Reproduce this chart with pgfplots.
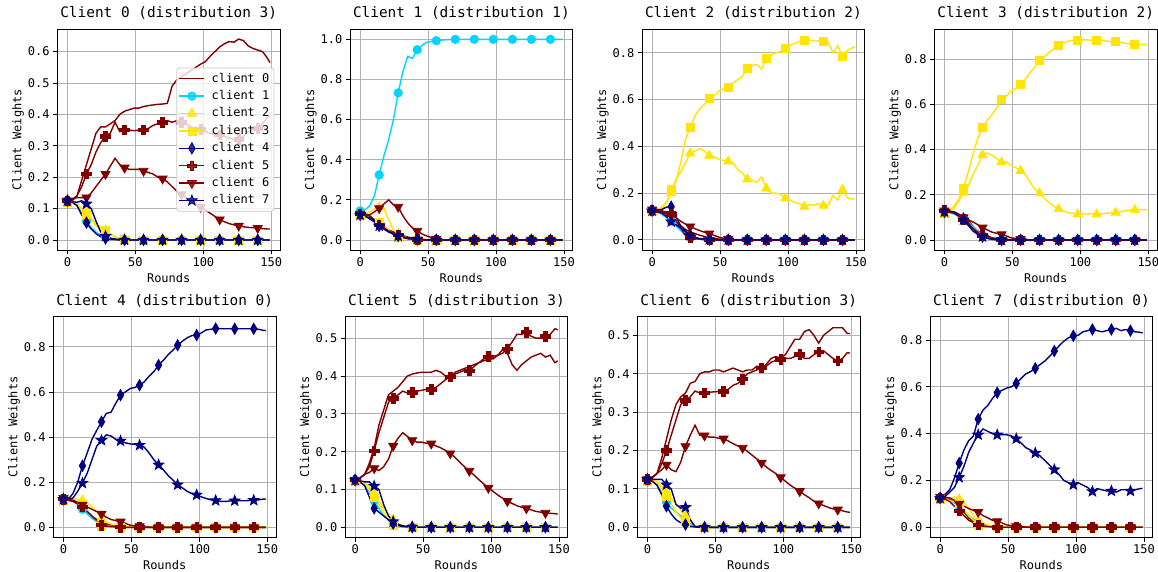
\documentclass[border=0pt]{standalone}
\usepackage{fontspec}
\setmainfont{DejaVu Sans Mono}
\usepackage{pgfplots}
\usepackage{pgfplotstable}
\pgfplotsset{compat=1.18}
\definecolor{jr}{rgb}{0.5,0,0}
\definecolor{jc}{rgb}{0,0.83,1}
\definecolor{jy}{rgb}{1,0.9,0}
\definecolor{jb}{rgb}{0,0,0.5}
\pgfdeclareplotmark{fstar}{%
 \pgfpathmoveto{\pgfpointpolar{90}{1.0*\pgfplotmarksize}}%
 \pgfpathlineto{\pgfpointpolar{126}{0.42*\pgfplotmarksize}}%
 \pgfpathlineto{\pgfpointpolar{162}{1.0*\pgfplotmarksize}}%
 \pgfpathlineto{\pgfpointpolar{198}{0.42*\pgfplotmarksize}}%
 \pgfpathlineto{\pgfpointpolar{234}{1.0*\pgfplotmarksize}}%
 \pgfpathlineto{\pgfpointpolar{270}{0.42*\pgfplotmarksize}}%
 \pgfpathlineto{\pgfpointpolar{306}{1.0*\pgfplotmarksize}}%
 \pgfpathlineto{\pgfpointpolar{342}{0.42*\pgfplotmarksize}}%
 \pgfpathlineto{\pgfpointpolar{18}{1.0*\pgfplotmarksize}}%
 \pgfpathlineto{\pgfpointpolar{54}{0.42*\pgfplotmarksize}}%
 \pgfpathclose\pgfusepathqfillstroke}
\pgfdeclareplotmark{fplus}{%
 \pgfpathmoveto{\pgfpoint{-0.36*\pgfplotmarksize}{\pgfplotmarksize}}%
 \pgfpathlineto{\pgfpoint{0.36*\pgfplotmarksize}{\pgfplotmarksize}}%
 \pgfpathlineto{\pgfpoint{0.36*\pgfplotmarksize}{0.36*\pgfplotmarksize}}%
 \pgfpathlineto{\pgfpoint{\pgfplotmarksize}{0.36*\pgfplotmarksize}}%
 \pgfpathlineto{\pgfpoint{\pgfplotmarksize}{-0.36*\pgfplotmarksize}}%
 \pgfpathlineto{\pgfpoint{0.36*\pgfplotmarksize}{-0.36*\pgfplotmarksize}}%
 \pgfpathlineto{\pgfpoint{0.36*\pgfplotmarksize}{-\pgfplotmarksize}}%
 \pgfpathlineto{\pgfpoint{-0.36*\pgfplotmarksize}{-\pgfplotmarksize}}%
 \pgfpathlineto{\pgfpoint{-0.36*\pgfplotmarksize}{-0.36*\pgfplotmarksize}}%
 \pgfpathlineto{\pgfpoint{-\pgfplotmarksize}{-0.36*\pgfplotmarksize}}%
 \pgfpathlineto{\pgfpoint{-\pgfplotmarksize}{0.36*\pgfplotmarksize}}%
 \pgfpathlineto{\pgfpoint{-0.36*\pgfplotmarksize}{0.36*\pgfplotmarksize}}%
 \pgfpathclose\pgfusepathqfillstroke}
\pgfplotsset{
 mi/.style={mark indices={1,5,9,13,17,21,25,29,33,37,41}},
 s0/.style={color=jr, line width=1.4pt, no markers},
 s1/.style={color=jc, line width=1.4pt, mi, mark=*, mark size=4.2pt, mark options={solid, line width=0.8pt}},
 s2/.style={color=jy, line width=1.4pt, mi, mark=triangle*, mark size=5.2pt, mark options={solid, line width=0.8pt}},
 s3/.style={color=jy, line width=1.4pt, mi, mark=square*, mark size=4.0pt, mark options={solid, line width=0.8pt}},
 s4/.style={color=jb, line width=1.4pt, mi, mark=diamond*, mark size=5.6pt, mark options={solid, line width=0.8pt, xscale=0.76}},
 s5/.style={color=jr, line width=1.4pt, mi, mark=fplus, mark size=4.8pt, mark options={solid, line width=0.8pt}},
 s6/.style={color=jr, line width=1.4pt, mi, mark=triangle*, mark size=5.2pt, mark options={solid, line width=0.8pt, rotate=180}},
 s7/.style={color=jb, line width=1.4pt, mi, mark=fstar, mark size=5.5pt, mark options={solid, line width=0.8pt}},
 cw/.style={
  scale only axis, width=222.8pt, height=220.7pt, anchor=south west,
  xmin=-7.45, xmax=156.45, xtick={0,50,100,150},
  grid=major, grid style={line width=0.9pt, color=black!30},
  axis line style={line width=0.9pt},
  tick align=outside, tick pos=left, major tick length=4.2pt,
  every tick/.style={black, line width=0.9pt},
  tick label style={font=\fontsize{12}{14}\selectfont},
  /pgf/number format/assume math mode=true,
  y tick label style={/pgf/number format/.cd, fixed, fixed zerofill, precision=1},
  scaled y ticks=false,
  xlabel=Rounds, ylabel=Client Weights,
  label style={font=\fontsize{12}{14}\selectfont},
  xlabel style={at={(axis description cs:0.5,-0.148)}, anchor=base},
  ylabel style={at={(axis description cs:-0.161,0.5)}, anchor=base},
  title style={at={(axis description cs:0.5,1.025)}, anchor=base, font=\fontsize{14.4}{16}\selectfont},
 }
}
\newcommand\series[1]{%
\addplot[s0] table[x=x,y=c0]{#1};
\addplot[s1] table[x=x,y=c1]{#1};
\addplot[s2] table[x=x,y=c2]{#1};
\addplot[s3] table[x=x,y=c3]{#1};
\addplot[s4] table[x=x,y=c4]{#1};
\addplot[s5] table[x=x,y=c5]{#1};
\addplot[s6] table[x=x,y=c6]{#1};
\addplot[s7] table[x=x,y=c7]{#1};}

\pgfplotstableread{
x c0 c1 c2 c3 c4 c5 c6 c7
0 0.125 0.125 0.125 0.12 0.125 0.125 0.125 0.125
3.5 0.13 0.12 0.12 0.118 0.12 0.125 0.13 0.122
7 0.14 0.11 0.115 0.11 0.11 0.14 0.135 0.12
10.5 0.19 0.085 0.10 0.095 0.08 0.17 0.135 0.125
14 0.24 0.06 0.09 0.08 0.055 0.21 0.135 0.115
17.5 0.29 0.04 0.07 0.065 0.035 0.24 0.15 0.10
21 0.34 0.025 0.05 0.045 0.02 0.28 0.17 0.06
24.5 0.36 0.015 0.04 0.038 0.01 0.31 0.19 0.025
28 0.36 0.008 0.03 0.03 0.005 0.33 0.21 0.012
31.5 0.37 0.004 0.02 0.02 0.002 0.34 0.235 0.006
35 0.38 0.002 0.01 0.008 0.001 0.375 0.26 0.003
38.5 0.40 0.001 0.004 0.003 0 0.345 0.24 0.001
42 0.41 0 0.001 0.001 0 0.35 0.23 0
45.5 0.415 0 0 0 0 0.35 0.225 0
49 0.42 0 0 0 0 0.348 0.225 0
52.5 0.42 0 0 0 0 0.35 0.225 0
56 0.425 0 0 0 0 0.35 0.22 0
59.5 0.428 0 0 0 0 0.355 0.215 0
63 0.43 0 0 0 0 0.365 0.21 0
66.5 0.432 0 0 0 0 0.37 0.20 0
70 0.433 0 0 0 0 0.375 0.195 0
73.5 0.435 0 0 0 0 0.38 0.185 0
77 0.49 0 0 0 0 0.375 0.17 0
80.5 0.51 0 0 0 0 0.38 0.155 0
84 0.52 0 0 0 0 0.375 0.145 0
87.5 0.53 0 0 0 0 0.37 0.135 0
91 0.54 0 0 0 0 0.36 0.125 0
94.5 0.55 0 0 0 0 0.355 0.115 0
98 0.56 0 0 0 0 0.352 0.105 0
101.5 0.568 0 0 0 0 0.345 0.095 0
105 0.585 0 0 0 0 0.34 0.085 0
108.5 0.60 0 0 0 0 0.335 0.075 0
112 0.615 0 0 0 0 0.335 0.065 0
115.5 0.625 0 0 0 0 0.33 0.058 0
119 0.632 0 0 0 0 0.325 0.052 0
122.5 0.63 0 0 0 0 0.32 0.048 0
126 0.64 0 0 0 0 0.32 0.045 0
129.5 0.635 0 0 0 0 0.33 0.042 0
133 0.618 0 0 0 0 0.345 0.04 0
136.5 0.61 0 0 0 0 0.35 0.039 0
140 0.605 0 0 0 0 0.355 0.038 0
143.5 0.60 0 0 0 0 0.37 0.036 0
147 0.58 0 0 0 0 0.39 0.035 0
149 0.565 0 0 0 0 0.395 0.035 0
}\tA

\pgfplotstableread{
x c0 c1 c2 c3 c4 c5 c6 c7
0 0.13 0.145 0.125 0.12 0.125 0.13 0.13 0.125
3.5 0.125 0.15 0.13 0.115 0.12 0.125 0.128 0.118
7 0.12 0.17 0.14 0.11 0.105 0.12 0.125 0.11
10.5 0.10 0.22 0.155 0.10 0.09 0.10 0.14 0.095
14 0.08 0.324 0.165 0.09 0.07 0.075 0.158 0.07
17.5 0.065 0.42 0.16 0.07 0.055 0.06 0.18 0.055
21 0.05 0.50 0.10 0.05 0.04 0.045 0.20 0.04
24.5 0.04 0.60 0.05 0.03 0.03 0.035 0.175 0.03
28 0.03 0.733 0.03 0.015 0.02 0.025 0.165 0.02
31.5 0.022 0.84 0.02 0.01 0.012 0.015 0.12 0.015
35 0.015 0.915 0.01 0.005 0.006 0.01 0.085 0.01
38.5 0.01 0.905 0.006 0.002 0.004 0.006 0.06 0.007
42 0.005 0.948 0.003 0 0.002 0.003 0.045 0.005
45.5 0.003 0.97 0.001 0 0.001 0.001 0.03 0.003
49 0.001 0.985 0 0 0 0 0.02 0.001
52.5 0 0.99 0 0 0 0 0.012 0
56 0 0.993 0 0 0 0 0.005 0
59.5 0 0.996 0 0 0 0 0.002 0
63 0 0.998 0 0 0 0 0.001 0
66.5 0 0.999 0 0 0 0 0 0
70 0 1 0 0 0 0 0 0
73.5 0 1 0 0 0 0 0 0
77 0 1 0 0 0 0 0 0
80.5 0 1 0 0 0 0 0 0
84 0 1 0 0 0 0 0 0
87.5 0 1 0 0 0 0 0 0
91 0 1 0 0 0 0 0 0
94.5 0 1 0 0 0 0 0 0
98 0 1 0 0 0 0 0 0
101.5 0 1 0 0 0 0 0 0
105 0 1 0 0 0 0 0 0
108.5 0 1 0 0 0 0 0 0
112 0 1 0 0 0 0 0 0
115.5 0 1 0 0 0 0 0 0
119 0 1 0 0 0 0 0 0
122.5 0 1 0 0 0 0 0 0
126 0 1 0 0 0 0 0 0
129.5 0 1 0 0 0 0 0 0
133 0 1 0 0 0 0 0 0
136.5 0 1 0 0 0 0 0 0
140 0 1 0 0 0 0 0 0
143.5 0 1 0 0 0 0 0 0
147 0 1 0 0 0 0 0 0
149 0 1 0 0 0 0 0 0
}\tB

\pgfplotstableread{
x c0 c1 c2 c3 c4 c5 c6 c7
0 0.125 0.125 0.125 0.12 0.125 0.125 0.13 0.125
3.5 0.123 0.12 0.125 0.125 0.128 0.123 0.128 0.12
7 0.12 0.11 0.14 0.13 0.13 0.12 0.125 0.115
10.5 0.11 0.095 0.16 0.16 0.14 0.118 0.118 0.10
14 0.10 0.08 0.20 0.214 0.142 0.11 0.11 0.078
17.5 0.08 0.06 0.26 0.25 0.10 0.08 0.095 0.065
21 0.06 0.04 0.29 0.33 0.06 0.05 0.08 0.05
24.5 0.045 0.02 0.33 0.43 0.04 0.02 0.068 0.035
28 0.035 0.01 0.37 0.481 0.02 0.01 0.057 0.02
31.5 0.027 0.006 0.38 0.53 0.01 0.006 0.048 0.01
35 0.02 0.003 0.39 0.56 0.005 0.003 0.04 0.006
38.5 0.015 0.001 0.38 0.58 0.002 0.001 0.033 0.004
42 0.01 0 0.36 0.606 0.001 0 0.027 0.002
45.5 0.007 0 0.355 0.615 0 0 0.02 0.001
49 0.004 0 0.345 0.635 0 0 0.012 0
52.5 0.002 0 0.34 0.645 0 0 0.007 0
56 0.001 0 0.336 0.652 0 0 0.004 0
59.5 0 0 0.33 0.67 0 0 0.002 0
63 0 0 0.30 0.685 0 0 0.001 0
66.5 0 0 0.285 0.70 0 0 0 0
70 0 0 0.259 0.733 0 0 0 0
73.5 0 0 0.255 0.745 0 0 0 0
77 0 0 0.245 0.75 0 0 0 0
80.5 0 0 0.27 0.73 0 0 0 0
84 0 0 0.22 0.774 0 0 0 0
87.5 0 0 0.20 0.79 0 0 0 0
91 0 0 0.20 0.80 0 0 0 0
94.5 0 0 0.195 0.805 0 0 0 0
98 0 0 0.178 0.818 0 0 0 0
101.5 0 0 0.17 0.83 0 0 0 0
105 0 0 0.16 0.84 0 0 0 0
108.5 0 0 0.155 0.848 0 0 0 0
112 0 0 0.142 0.854 0 0 0 0
115.5 0 0 0.15 0.855 0 0 0 0
119 0 0 0.15 0.85 0 0 0 0
122.5 0 0 0.155 0.85 0 0 0 0
126 0 0 0.147 0.85 0 0 0 0
129.5 0 0 0.15 0.845 0 0 0 0
133 0 0 0.19 0.80 0 0 0 0
136.5 0 0 0.17 0.83 0 0 0 0
140 0 0 0.214 0.786 0 0 0 0
143.5 0 0 0.18 0.81 0 0 0 0
147 0 0 0.175 0.82 0 0 0 0
149 0 0 0.174 0.826 0 0 0 0
}\tC

\pgfplotstableread{
x c0 c1 c2 c3 c4 c5 c6 c7
0 0.125 0.125 0.125 0.12 0.125 0.13 0.13 0.125
3.5 0.123 0.122 0.125 0.13 0.123 0.125 0.128 0.125
7 0.12 0.115 0.14 0.15 0.12 0.12 0.125 0.125
10.5 0.11 0.105 0.17 0.18 0.11 0.105 0.115 0.11
14 0.10 0.095 0.21 0.229 0.095 0.09 0.10 0.09
17.5 0.09 0.08 0.24 0.30 0.075 0.07 0.09 0.065
21 0.06 0.06 0.29 0.38 0.05 0.05 0.08 0.04
24.5 0.04 0.04 0.33 0.45 0.03 0.035 0.068 0.025
28 0.03 0.02 0.376 0.496 0.015 0.02 0.055 0.015
31.5 0.02 0.01 0.385 0.53 0.008 0.012 0.045 0.008
35 0.01 0.004 0.375 0.555 0.003 0.006 0.035 0.004
38.5 0.007 0.002 0.36 0.585 0.001 0.004 0.03 0.002
42 0.005 0 0.344 0.623 0 0.002 0.025 0
45.5 0.003 0 0.345 0.635 0 0.001 0.018 0
49 0.002 0 0.33 0.66 0 0 0.01 0
52.5 0.001 0 0.32 0.67 0 0 0.007 0
56 0 0 0.306 0.689 0 0 0.004 0
59.5 0 0 0.29 0.71 0 0 0.002 0
63 0 0 0.255 0.74 0 0 0.001 0
66.5 0 0 0.225 0.765 0 0 0 0
70 0 0 0.207 0.793 0 0 0 0
73.5 0 0 0.185 0.81 0 0 0 0
77 0 0 0.165 0.83 0 0 0 0
80.5 0 0 0.15 0.845 0 0 0 0
84 0 0 0.137 0.859 0 0 0 0
87.5 0 0 0.13 0.87 0 0 0 0
91 0 0 0.12 0.88 0 0 0 0
94.5 0 0 0.118 0.883 0 0 0 0
98 0 0 0.114 0.884 0 0 0 0
101.5 0 0 0.116 0.885 0 0 0 0
105 0 0 0.115 0.885 0 0 0 0
108.5 0 0 0.117 0.884 0 0 0 0
112 0 0 0.114 0.885 0 0 0 0
115.5 0 0 0.116 0.885 0 0 0 0
119 0 0 0.118 0.88 0 0 0 0
122.5 0 0 0.12 0.878 0 0 0 0
126 0 0 0.121 0.877 0 0 0 0
129.5 0 0 0.125 0.875 0 0 0 0
133 0 0 0.13 0.87 0 0 0 0
136.5 0 0 0.132 0.868 0 0 0 0
140 0 0 0.134 0.866 0 0 0 0
143.5 0 0 0.135 0.866 0 0 0 0
147 0 0 0.134 0.865 0 0 0 0
149 0 0 0.135 0.865 0 0 0 0
}\tD

\pgfplotstableread{
x c0 c1 c2 c3 c4 c5 c6 c7
0 0.125 0.125 0.125 0.12 0.125 0.125 0.13 0.125
3.5 0.123 0.12 0.125 0.118 0.125 0.12 0.125 0.125
7 0.12 0.115 0.125 0.115 0.15 0.115 0.12 0.13
10.5 0.11 0.10 0.125 0.11 0.20 0.105 0.11 0.16
14 0.10 0.08 0.12 0.10 0.273 0.09 0.10 0.196
17.5 0.075 0.06 0.11 0.075 0.33 0.07 0.09 0.24
21 0.05 0.04 0.09 0.05 0.39 0.05 0.08 0.30
24.5 0.035 0.025 0.07 0.025 0.43 0.03 0.07 0.36
28 0.02 0.015 0.04 0.005 0.468 0.01 0.06 0.386
31.5 0.015 0.01 0.025 0.003 0.505 0.006 0.045 0.41
35 0.01 0.005 0.015 0.002 0.51 0.003 0.035 0.405
38.5 0.007 0.002 0.01 0.001 0.55 0.002 0.03 0.39
42 0.004 0.001 0.005 0 0.586 0.001 0.025 0.383
45.5 0.002 0 0.002 0 0.60 0 0.018 0.375
49 0.001 0 0.001 0 0.615 0 0.01 0.37
52.5 0 0 0 0 0.62 0 0.007 0.368
56 0 0 0 0 0.63 0 0.004 0.364
59.5 0 0 0 0 0.645 0 0.002 0.355
63 0 0 0 0 0.67 0 0.001 0.33
66.5 0 0 0 0 0.69 0 0 0.30
70 0 0 0 0 0.719 0 0 0.277
73.5 0 0 0 0 0.74 0 0 0.255
77 0 0 0 0 0.765 0 0 0.23
80.5 0 0 0 0 0.785 0 0 0.21
84 0 0 0 0 0.807 0 0 0.189
87.5 0 0 0 0 0.825 0 0 0.175
91 0 0 0 0 0.84 0 0 0.16
94.5 0 0 0 0 0.85 0 0 0.15
98 0 0 0 0 0.852 0 0 0.144
101.5 0 0 0 0 0.862 0 0 0.135
105 0 0 0 0 0.875 0 0 0.128
108.5 0 0 0 0 0.878 0 0 0.122
112 0 0 0 0 0.881 0 0 0.119
115.5 0 0 0 0 0.88 0 0 0.115
119 0 0 0 0 0.88 0 0 0.115
122.5 0 0 0 0 0.88 0 0 0.117
126 0 0 0 0 0.88 0 0 0.118
129.5 0 0 0 0 0.88 0 0 0.118
133 0 0 0 0 0.88 0 0 0.118
136.5 0 0 0 0 0.88 0 0 0.119
140 0 0 0 0 0.88 0 0 0.12
143.5 0 0 0 0 0.878 0 0 0.122
147 0 0 0 0 0.873 0 0 0.125
149 0 0 0 0 0.872 0 0 0.126
}\tE

\pgfplotstableread{
x c0 c1 c2 c3 c4 c5 c6 c7
0 0.125 0.125 0.125 0.12 0.125 0.125 0.125 0.125
3.5 0.13 0.12 0.122 0.118 0.12 0.13 0.13 0.123
7 0.14 0.11 0.12 0.115 0.11 0.14 0.14 0.12
10.5 0.17 0.09 0.105 0.10 0.08 0.16 0.145 0.12
14 0.21 0.07 0.09 0.08 0.05 0.202 0.156 0.109
17.5 0.27 0.05 0.07 0.06 0.04 0.25 0.15 0.10
21 0.31 0.03 0.05 0.04 0.03 0.29 0.16 0.06
24.5 0.35 0.02 0.035 0.02 0.02 0.33 0.18 0.03
28 0.36 0.01 0.02 0.005 0.01 0.341 0.215 0.015
31.5 0.37 0.006 0.01 0.003 0.005 0.35 0.235 0.008
35 0.385 0.003 0.005 0.002 0.002 0.36 0.25 0.004
38.5 0.40 0.001 0.003 0.001 0.001 0.355 0.24 0.002
42 0.405 0 0.001 0 0 0.357 0.23 0.001
45.5 0.408 0 0 0 0 0.36 0.225 0
49 0.41 0 0 0 0 0.362 0.225 0
52.5 0.41 0 0 0 0 0.365 0.222 0
56 0.41 0 0 0 0 0.365 0.221 0
59.5 0.415 0 0 0 0 0.37 0.215 0
63 0.41 0 0 0 0 0.38 0.21 0
66.5 0.40 0 0 0 0 0.39 0.203 0
70 0.395 0 0 0 0 0.398 0.195 0
73.5 0.41 0 0 0 0 0.405 0.185 0
77 0.415 0 0 0 0 0.41 0.172 0
80.5 0.42 0 0 0 0 0.415 0.16 0
84 0.425 0 0 0 0 0.414 0.149 0
87.5 0.43 0 0 0 0 0.425 0.138 0
91 0.435 0 0 0 0 0.435 0.126 0
94.5 0.44 0 0 0 0 0.445 0.115 0
98 0.445 0 0 0 0 0.451 0.104 0
101.5 0.445 0 0 0 0 0.452 0.095 0
105 0.455 0 0 0 0 0.455 0.085 0
108.5 0.47 0 0 0 0 0.46 0.077 0
112 0.46 0 0 0 0 0.472 0.069 0
115.5 0.43 0 0 0 0 0.49 0.063 0
119 0.415 0 0 0 0 0.51 0.057 0
122.5 0.43 0 0 0 0 0.51 0.053 0
126 0.44 0 0 0 0 0.516 0.05 0
129.5 0.45 0 0 0 0 0.505 0.046 0
133 0.455 0 0 0 0 0.50 0.042 0
136.5 0.46 0 0 0 0 0.50 0.04 0
140 0.45 0 0 0 0 0.505 0.038 0
143.5 0.455 0 0 0 0 0.51 0.037 0
147 0.435 0 0 0 0 0.525 0.036 0
149 0.44 0 0 0 0 0.522 0.035 0
}\tF

\pgfplotstableread{
x c0 c1 c2 c3 c4 c5 c6 c7
0 0.125 0.125 0.125 0.12 0.125 0.125 0.125 0.125
3.5 0.13 0.12 0.122 0.118 0.12 0.13 0.13 0.125
7 0.14 0.11 0.12 0.115 0.11 0.14 0.14 0.125
10.5 0.18 0.09 0.105 0.10 0.085 0.165 0.15 0.125
14 0.23 0.065 0.09 0.08 0.055 0.20 0.163 0.111
17.5 0.28 0.05 0.075 0.06 0.035 0.24 0.15 0.10
21 0.32 0.04 0.06 0.04 0.02 0.28 0.145 0.06
24.5 0.34 0.03 0.045 0.025 0.012 0.32 0.17 0.05
28 0.35 0.02 0.03 0.01 0.007 0.331 0.211 0.052
31.5 0.375 0.01 0.015 0.005 0.003 0.34 0.24 0.02
35 0.38 0.003 0.005 0.002 0.001 0.355 0.266 0.002
38.5 0.40 0.001 0.002 0.001 0 0.35 0.24 0.001
42 0.405 0 0.001 0 0 0.35 0.239 0
45.5 0.405 0 0 0 0 0.352 0.235 0
49 0.41 0 0 0 0 0.353 0.235 0
52.5 0.41 0 0 0 0 0.354 0.232 0
56 0.405 0 0 0 0 0.354 0.231 0
59.5 0.41 0 0 0 0 0.36 0.225 0
63 0.415 0 0 0 0 0.37 0.218 0
66.5 0.41 0 0 0 0 0.375 0.212 0
70 0.405 0 0 0 0 0.386 0.207 0
73.5 0.41 0 0 0 0 0.40 0.198 0
77 0.41 0 0 0 0 0.405 0.188 0
80.5 0.42 0 0 0 0 0.41 0.178 0
84 0.415 0 0 0 0 0.415 0.168 0
87.5 0.425 0 0 0 0 0.42 0.157 0
91 0.44 0 0 0 0 0.43 0.148 0
94.5 0.445 0 0 0 0 0.435 0.14 0
98 0.44 0 0 0 0 0.437 0.13 0
101.5 0.45 0 0 0 0 0.44 0.12 0
105 0.47 0 0 0 0 0.44 0.11 0
108.5 0.49 0 0 0 0 0.445 0.102 0
112 0.49 0 0 0 0 0.45 0.094 0
115.5 0.51 0 0 0 0 0.44 0.085 0
119 0.515 0 0 0 0 0.44 0.077 0
122.5 0.50 0 0 0 0 0.45 0.068 0
126 0.48 0 0 0 0 0.457 0.062 0
129.5 0.50 0 0 0 0 0.46 0.057 0
133 0.51 0 0 0 0 0.45 0.052 0
136.5 0.52 0 0 0 0 0.44 0.048 0
140 0.52 0 0 0 0 0.434 0.046 0
143.5 0.52 0 0 0 0 0.44 0.043 0
147 0.505 0 0 0 0 0.455 0.04 0
149 0.505 0 0 0 0 0.454 0.039 0
}\tG

\pgfplotstableread{
x c0 c1 c2 c3 c4 c5 c6 c7
0 0.125 0.125 0.125 0.12 0.125 0.125 0.13 0.125
3.5 0.123 0.12 0.125 0.118 0.14 0.12 0.128 0.13
7 0.12 0.115 0.125 0.115 0.16 0.11 0.125 0.15
10.5 0.105 0.105 0.13 0.11 0.21 0.09 0.115 0.17
14 0.09 0.09 0.12 0.10 0.274 0.07 0.10 0.213
17.5 0.065 0.07 0.11 0.075 0.33 0.05 0.09 0.26
21 0.04 0.05 0.08 0.05 0.37 0.03 0.08 0.32
24.5 0.025 0.035 0.05 0.03 0.39 0.02 0.072 0.36
28 0.015 0.02 0.03 0.01 0.462 0.01 0.065 0.395
31.5 0.01 0.01 0.02 0.006 0.50 0.006 0.05 0.42
35 0.005 0.005 0.01 0.003 0.52 0.003 0.04 0.41
38.5 0.003 0.002 0.006 0.001 0.55 0.001 0.03 0.40
42 0.002 0.001 0.003 0 0.575 0 0.025 0.395
45.5 0.001 0 0.001 0 0.585 0 0.018 0.395
49 0 0 0 0 0.595 0 0.01 0.395
52.5 0 0 0 0 0.60 0 0.007 0.39
56 0 0 0 0 0.615 0 0.004 0.378
59.5 0 0 0 0 0.635 0 0.002 0.36
63 0 0 0 0 0.655 0 0.001 0.34
66.5 0 0 0 0 0.665 0 0 0.33
70 0 0 0 0 0.679 0 0 0.317
73.5 0 0 0 0 0.695 0 0 0.305
77 0 0 0 0 0.71 0 0 0.285
80.5 0 0 0 0 0.73 0 0 0.265
84 0 0 0 0 0.753 0 0 0.246
87.5 0 0 0 0 0.775 0 0 0.225
91 0 0 0 0 0.795 0 0 0.20
94.5 0 0 0 0 0.81 0 0 0.19
98 0 0 0 0 0.818 0 0 0.182
101.5 0 0 0 0 0.82 0 0 0.19
105 0 0 0 0 0.835 0 0 0.18
108.5 0 0 0 0 0.84 0 0 0.17
112 0 0 0 0 0.845 0 0 0.153
115.5 0 0 0 0 0.84 0 0 0.165
119 0 0 0 0 0.835 0 0 0.16
122.5 0 0 0 0 0.84 0 0 0.155
126 0 0 0 0 0.845 0 0 0.155
129.5 0 0 0 0 0.85 0 0 0.15
133 0 0 0 0 0.84 0 0 0.16
136.5 0 0 0 0 0.845 0 0 0.16
140 0 0 0 0 0.84 0 0 0.155
143.5 0 0 0 0 0.835 0 0 0.16
147 0 0 0 0 0.833 0 0 0.165
149 0 0 0 0 0.83 0 0 0.166
}\tH

\begin{document}
\begin{tikzpicture}
\useasboundingbox (0,0) rectangle (1158pt,571pt);
\begin{axis}[cw, at={(57.3pt,321pt)}, ymin=-0.032, ymax=0.671,
  ytick={0,0.1,0.2,0.3,0.4,0.5,0.6}, title={Client 0 (distribution 3)},
  legend style={at={(0.974,0.5)}, anchor=east, font=\fontsize{12}{13}\selectfont,
    fill=white, fill opacity=0.8, draw opacity=1, text opacity=1, draw=black!20,
    line width=0.8pt, rounded corners=2.5pt, inner xsep=2pt, inner ysep=2pt,
    row sep=0pt, column sep=4pt, nodes={text height=9pt, text depth=2.5pt, inner ysep=2.95pt, inner xsep=2.5pt}},
  legend cell align=left,
  legend image code/.code={\draw[mark indices={2}] plot coordinates {(0pt,0pt) (12.5pt,0pt) (25pt,0pt)};}]
\series{\tA}
\legend{client 0,client 1,client 2,client 3,client 4,client 5,client 6,client 7}
\end{axis}
\begin{axis}[cw, at={(350pt,321pt)}, ymin=-0.05, ymax=1.05,
  ytick={0,0.2,0.4,0.6,0.8,1.0}, title={Client 1 (distribution 1)}]
\series{\tB}
\end{axis}
\begin{axis}[cw, at={(642pt,321pt)}, ymin=-0.043, ymax=0.9,
  ytick={0,0.2,0.4,0.6,0.8}, title={Client 2 (distribution 2)}]
\series{\tC}
\end{axis}
\begin{axis}[cw, at={(934.3pt,321pt)}, ymin=-0.044, ymax=0.932,
  ytick={0,0.2,0.4,0.6,0.8}, title={Client 3 (distribution 2)}]
\series{\tD}
\end{axis}
\begin{axis}[cw, at={(53.3pt,33.7pt)}, ymin=-0.044, ymax=0.934,
  ytick={0,0.2,0.4,0.6,0.8}, title={Client 4 (distribution 0)}]
\series{\tE}
\end{axis}
\begin{axis}[cw, at={(345pt,33.7pt)}, ymin=-0.0265, ymax=0.557,
  ytick={0,0.1,0.2,0.3,0.4,0.5}, title={Client 5 (distribution 3)}]
\series{\tF}
\end{axis}
\begin{axis}[cw, at={(637.3pt,33.7pt)}, ymin=-0.026, ymax=0.549,
  ytick={0,0.1,0.2,0.3,0.4,0.5}, title={Client 6 (distribution 3)}]
\series{\tG}
\end{axis}
\begin{axis}[cw, at={(930pt,33.7pt)}, ymin=-0.043, ymax=0.9,
  ytick={0,0.2,0.4,0.6,0.8}, title={Client 7 (distribution 0)}]
\series{\tH}
\end{axis}
\end{tikzpicture}
\end{document}
